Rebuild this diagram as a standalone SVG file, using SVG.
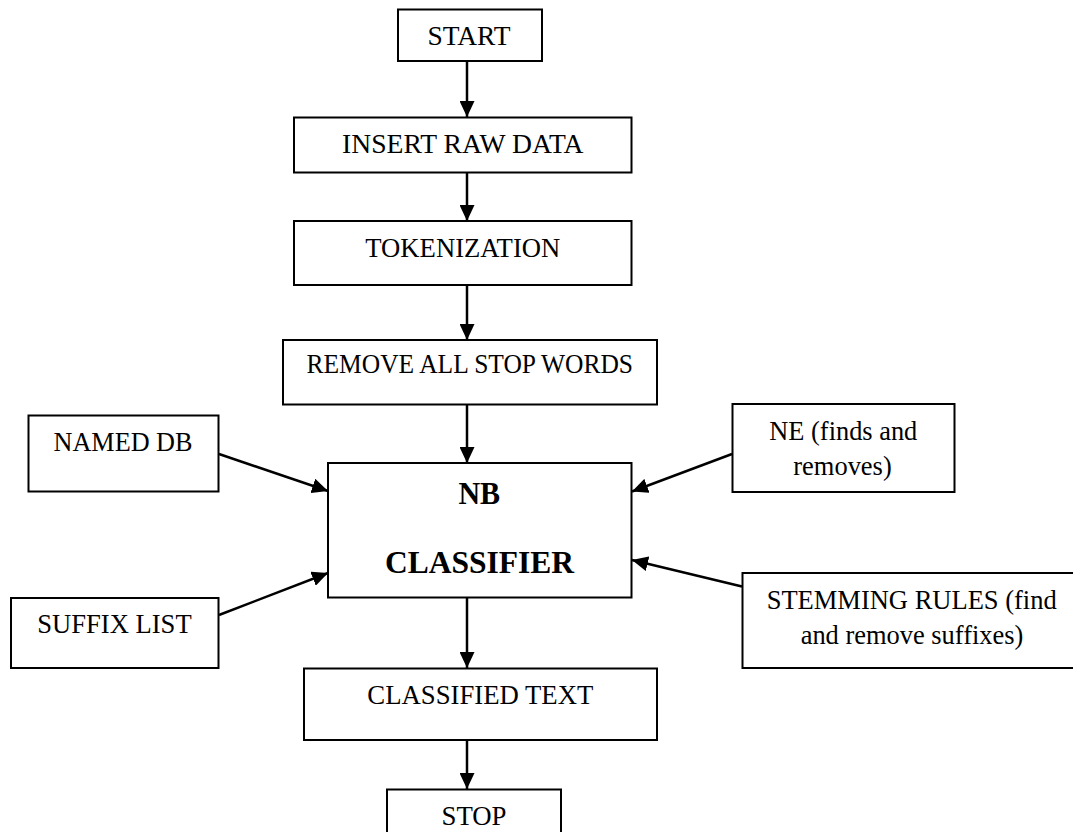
<svg xmlns="http://www.w3.org/2000/svg" width="1073" height="832" viewBox="0 0 1073 832">
<style>
.box{fill:#fff;stroke:#000;stroke-width:2}
.t{font-family:'Liberation Serif',Tinos,'Times New Roman',Times,'DejaVu Serif','Noto Serif',serif;font-size:26.5px;fill:#000;text-anchor:middle}
.b{font-family:'Liberation Serif',Tinos,'Times New Roman',Times,'DejaVu Serif','Noto Serif',serif;font-size:31.5px;font-weight:bold;fill:#000;text-anchor:middle}
.c{stroke:#000;stroke-width:2.5;fill:none;marker-end:url(#arr)}
</style>
<defs>
<marker id="arr" markerUnits="userSpaceOnUse" markerWidth="16" markerHeight="15" refX="16" refY="7.5" orient="auto" viewBox="0 0 16 15">
<path d="M0,0 L16,7.5 L0,15 z" fill="#000"/>
</marker>
</defs>
<rect width="1073" height="832" fill="#fff"/>
<g id="connectors">
<line class="c" x1="467" y1="61" x2="467" y2="117"/>
<line class="c" x1="467" y1="173" x2="467" y2="221"/>
<line class="c" x1="467" y1="285" x2="467" y2="340"/>
<line class="c" x1="467" y1="405" x2="467" y2="463"/>
<line class="c" x1="219" y1="454" x2="328" y2="491"/>
<line class="c" x1="219" y1="615" x2="328" y2="573"/>
<line class="c" x1="732" y1="454" x2="632" y2="491.5"/>
<line class="c" x1="742" y1="586.5" x2="632" y2="560"/>
<line class="c" x1="467" y1="597.5" x2="467" y2="668"/>
<line class="c" x1="467" y1="740" x2="467" y2="789"/>
</g>
<g id="start">
<rect class="box" x="398" y="9.5" width="144" height="51.5"/>
<text class="t" x="469" y="45" textLength="83" lengthAdjust="spacingAndGlyphs">START</text>
</g>
<g id="insert">
<rect class="box" x="294" y="117.5" width="337.5" height="55"/>
<text class="t" x="462.8" y="153" textLength="241.5" lengthAdjust="spacingAndGlyphs">INSERT RAW DATA</text>
</g>
<g id="tokenization">
<rect class="box" x="294" y="221" width="337.5" height="64"/>
<text class="t" x="462.8" y="257" textLength="195" lengthAdjust="spacingAndGlyphs">TOKENIZATION</text>
</g>
<g id="remove">
<rect class="box" x="283" y="340" width="374" height="64.5"/>
<text class="t" x="469.8" y="372.5" textLength="326.5" lengthAdjust="spacingAndGlyphs">REMOVE ALL STOP WORDS</text>
</g>
<g id="named-db">
<rect class="box" x="28.5" y="415.5" width="190" height="76"/>
<text class="t" x="123" y="451" textLength="139" lengthAdjust="spacingAndGlyphs">NAMED DB</text>
</g>
<g id="ne">
<rect class="box" x="732.5" y="404" width="222" height="88"/>
<text class="t" x="843.3" y="439.5" textLength="148" lengthAdjust="spacingAndGlyphs">NE (finds and</text>
<text class="t" x="842.5" y="474.5" textLength="98.5" lengthAdjust="spacingAndGlyphs">removes)</text>
</g>
<g id="classifier">
<rect class="box" x="328" y="463" width="303.5" height="134.5"/>
<text class="b" x="479.3" y="504" textLength="41.7" lengthAdjust="spacingAndGlyphs">NB</text>
<text class="b" x="479.5" y="572.5" textLength="189" lengthAdjust="spacingAndGlyphs">CLASSIFIER</text>
</g>
<g id="suffix">
<rect class="box" x="11" y="598" width="207.5" height="70"/>
<text class="t" x="114.5" y="632.5" textLength="154.3" lengthAdjust="spacingAndGlyphs">SUFFIX LIST</text>
</g>
<g id="stemming">
<rect class="box" x="742.5" y="573" width="338" height="95"/>
<text class="t" x="911.7" y="609" textLength="290" lengthAdjust="spacingAndGlyphs">STEMMING RULES (find</text>
<text class="t" x="912" y="643.5" textLength="222.7" lengthAdjust="spacingAndGlyphs">and remove suffixes)</text>
</g>
<g id="classified">
<rect class="box" x="304" y="668.5" width="353" height="71.5"/>
<text class="t" x="480.3" y="703.5" textLength="226" lengthAdjust="spacingAndGlyphs">CLASSIFIED TEXT</text>
</g>
<g id="stop">
<rect class="box" x="387" y="789.5" width="174" height="60"/>
<text class="t" x="474" y="825" textLength="65" lengthAdjust="spacingAndGlyphs">STOP</text>
</g>
</svg>
